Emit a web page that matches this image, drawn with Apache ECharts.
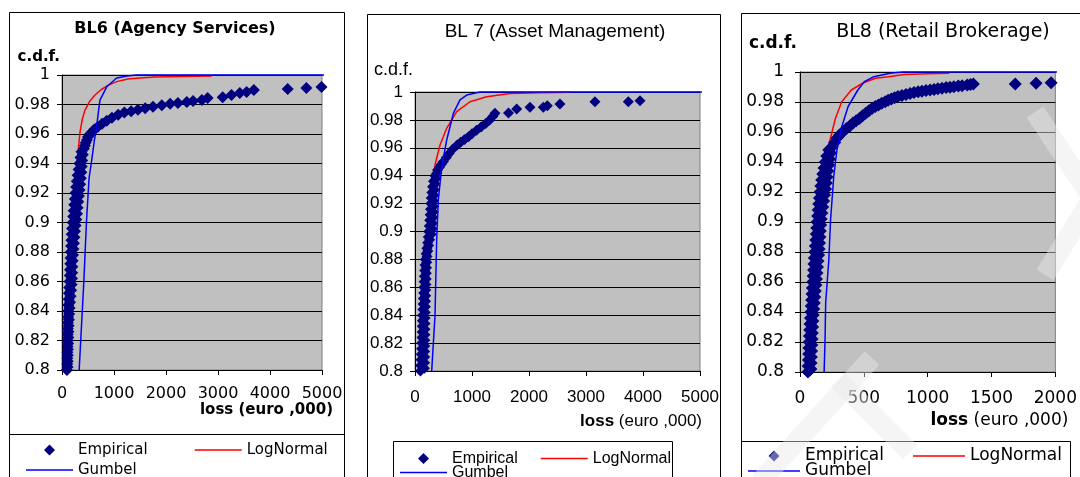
<!DOCTYPE html>
<html>
<head>
<meta charset="utf-8">
<script src="https://cdn.jsdelivr.net/npm/echarts@6/dist/echarts.min.js"></script>
<style>html,body{margin:0;padding:0;background:#fff}#c{width:1080px;height:477px}</style>
</head>
<body>
<div id="c"></div>
<script>
// ---- Data (x = loss in euro ,000 ; y = c.d.f.) ----
const titles = ['BL6 (Agency Services)', 'BL 7 (Asset Management)', 'BL8 (Retail Brokerage)'];
const yTicks = [0.8, 0.82, 0.84, 0.86, 0.88, 0.9, 0.92, 0.94, 0.96, 0.98, 1];
const xTicksBL6 = [0, 1000, 2000, 3000, 4000, 5000];
const xTicksBL7 = [0, 1000, 2000, 3000, 4000, 5000];
const xTicksBL8 = [0, 500, 1000, 1500, 2000];

const bl6Empirical = [
  [95,0.800],[108,0.802],[100,0.804],[110,0.806],[102,0.808],[112,0.810],[104,0.812],[116,0.814],
  [106,0.816],[118,0.818],[108,0.820],[122,0.822],[110,0.824],[124,0.826],[112,0.828],[128,0.830],
  [114,0.832],[132,0.834],[116,0.836],[138,0.838],[118,0.840],[145,0.842],[122,0.844],[155,0.846],
  [128,0.848],[165,0.850],[132,0.852],[175,0.854],[138,0.856],[185,0.858],[145,0.860],[192,0.862],
  [150,0.864],[196,0.866],[155,0.868],[200,0.870],[160,0.872],[205,0.874],[165,0.876],[212,0.878],
  [170,0.880],[220,0.882],[176,0.884],[230,0.886],[182,0.888],[240,0.890],[188,0.892],[250,0.894],
  [195,0.896],[262,0.898],[205,0.900],[275,0.902],[215,0.904],[288,0.906],[225,0.908],[300,0.910],
  [236,0.912],[312,0.914],[248,0.916],[325,0.918],[260,0.920],[338,0.922],[272,0.924],[350,0.926],
  [285,0.928],[362,0.930],[300,0.932],[372,0.934],[318,0.936],[380,0.938],[335,0.940],[390,0.942],
  [355,0.944],[400,0.946],[375,0.948],[420,0.950],[440,0.952],[455,0.954],[480,0.956],[500,0.958],
  [540,0.960],[570,0.961],[620,0.963],[690,0.965],[770,0.967],[860,0.969],[960,0.971],
  [1080,0.973],[1200,0.9745],[1330,0.9755],[1460,0.9765],[1600,0.9775],[1750,0.9785],[1920,0.9795],
  [2080,0.9805],[2230,0.981],[2400,0.9817],[2520,0.9824],[2690,0.983],[2800,0.9844],[3090,0.985],
  [3260,0.9864],[3420,0.9878],[3550,0.9885],[3690,0.9898],[4340,0.9905],[4700,0.9912],[4990,0.9919]
];
const bl6LogNormal = [
  [100,0.8],[130,0.85],[190,0.89],[240,0.92],[270,0.93],[290,0.94],[315,0.95],[345,0.961],[390,0.97],
  [440,0.976],[530,0.982],[634,0.9864],[750,0.990],[883,0.993],[1050,0.9955],[1267,0.9973],[1500,0.998],
  [1786,0.9986],[2300,0.999],[2880,0.9993]
];
const bl6Gumbel = [
  [330,0.8],[360,0.82],[420,0.86],[470,0.9],[520,0.93],[570,0.942],[620,0.955],[666,0.965],[700,0.975],
  [730,0.983],[860,0.992],[1050,0.998],[1250,0.9993],[1440,1],[5150,1]
];

const bl7Empirical = [
  [95,0.800],[165,0.802],[100,0.804],[168,0.806],[105,0.808],[170,0.810],[110,0.812],[170,0.814],
  [115,0.816],[172,0.818],[118,0.820],[172,0.822],[122,0.824],[174,0.826],[125,0.828],[175,0.830],
  [128,0.832],[176,0.834],[130,0.836],[177,0.838],[133,0.840],[180,0.842],[138,0.844],[182,0.846],
  [143,0.848],[185,0.850],[148,0.852],[188,0.854],[152,0.856],[190,0.858],[156,0.860],[193,0.862],
  [160,0.864],[196,0.866],[165,0.868],[199,0.870],[170,0.872],[202,0.874],[176,0.876],[206,0.878],
  [182,0.880],[212,0.882],[195,0.884],[225,0.886],[208,0.888],[240,0.890],[222,0.892],[258,0.894],
  [232,0.896],[285,0.898],[240,0.900],[300,0.902],[250,0.904],[308,0.906],[258,0.908],[314,0.910],
  [265,0.912],[318,0.914],[272,0.916],[322,0.918],[278,0.920],[326,0.922],[285,0.924],[332,0.926],
  [295,0.928],[340,0.930],[308,0.932],[352,0.934],[325,0.936],[368,0.938],[350,0.940],[385,0.942],
  [395,0.944],[430,0.946],[460,0.948],[497,0.950],[550,0.953],
  [600,0.956],[660,0.959],[740,0.962],[800,0.964],[870,0.966],[940,0.968],[1000,0.970],[1080,0.9725],
  [1160,0.975],[1240,0.9775],[1310,0.980],[1365,0.9825],[1403,0.9847],[1640,0.985],[1784,0.9878],
  [2017,0.989],[2251,0.989],[2321,0.9902],[2543,0.9914],[3157,0.993],[3742,0.993],[3947,0.9938]
];
const bl7LogNormal = [
  [120,0.8],[160,0.85],[258,0.9],[312,0.928],[351,0.9477],[380,0.9525],[439,0.962],[556,0.974],[731,0.9859],
  [965,0.993],[1257,0.9966],[1666,0.999],[2200,0.9995],[2720,0.9998]
];
const bl7Gumbel = [
  [293,0.8],[351,0.84],[380,0.894],[409,0.9226],[468,0.946],[556,0.9656],[673,0.9847],[789,0.9943],
  [907,0.9978],[1140,1],[5120,1]
];

const bl8Empirical = [
  [62,0.800],[85,0.802],[64,0.804],[87,0.806],[66,0.808],[89,0.810],[68,0.812],[91,0.814],
  [70,0.816],[93,0.818],[72,0.820],[95,0.822],[74,0.824],[97,0.826],[76,0.828],[99,0.830],
  [79,0.832],[101,0.834],[82,0.836],[104,0.838],[85,0.840],[108,0.842],[88,0.844],[112,0.846],
  [91,0.848],[116,0.850],[94,0.852],[120,0.854],[97,0.856],[125,0.858],[100,0.860],[129,0.862],
  [103,0.864],[133,0.866],[106,0.868],[137,0.870],[109,0.872],[141,0.874],[112,0.876],[146,0.878],
  [116,0.880],[150,0.882],[120,0.884],[153,0.886],[124,0.888],[156,0.890],[128,0.892],[159,0.894],
  [131,0.896],[162,0.898],[134,0.900],[166,0.902],[138,0.904],[172,0.906],[142,0.908],[178,0.910],
  [147,0.912],[185,0.914],[152,0.916],[192,0.918],[157,0.920],[200,0.922],[163,0.924],[206,0.926],
  [170,0.928],[212,0.930],[178,0.932],[218,0.934],[188,0.936],[225,0.938],[198,0.940],[232,0.942],
  [210,0.944],[240,0.946],[225,0.948],[250,0.950],[272,0.953],[289,0.9558],[310,0.958],
  [335,0.960],[364,0.9624],[390,0.964],[415,0.966],[440,0.9675],[466,0.969],[490,0.9708],[515,0.9725],
  [540,0.9742],[566,0.9758],[590,0.977],[615,0.978],[640,0.9792],[667,0.9802],[690,0.9812],[715,0.982],
  [740,0.9828],[767,0.9836],[798,0.9843],[830,0.985],[862,0.9857],[893,0.9864],[925,0.9868],[955,0.9872],
  [987,0.9876],[1019,0.988],[1050,0.9884],[1080,0.9888],[1112,0.9892],[1145,0.9896],[1175,0.9899],
  [1205,0.9902],[1240,0.9906],[1270,0.9909],[1310,0.9913],[1335,0.9916],[1358,0.992],
  [1686,0.992],[1849,0.9925],[1967,0.9929]
];
const bl8LogNormal = [
  [70,0.8],[98,0.85],[140,0.9],[178,0.928],[201,0.9447],[239,0.9558],[277,0.969],[327,0.9802],[402,0.988],
  [490,0.9925],[591,0.9958],[692,0.9969],[818,0.9984],[1000,0.9988],[1170,0.9991]
];
const bl8Gumbel = [
  [189,0.8],[196,0.821],[201,0.846],[226,0.875],[239,0.901],[264,0.93],[289,0.948],[327,0.9635],
  [377,0.977],[453,0.988],[503,0.9935],[579,0.9969],[704,0.9991],[805,1],[2053,1]
];

// ---- Chart ----
const chart = echarts.init(document.getElementById('c'), null, {renderer: 'canvas'});
const DV = 'DejaVu Sans', LS = 'Liberation Sans';
const yFmt = v => String(+(+v).toFixed(2));
const xFmt = v => String(v);

const panels = [
  {font: DV, tick: 16, grid: {left: 62, top: 75, width: 260, height: 295}, xt: xTicksBL6,
   title: {x: 175, y: 21, size: 16, weight: 'bold'}, cdf: {size: 15, weight: 'bold', gap: 18, pad: 2},
   xname: {text: 'loss (euro ,000)', gap: 11, pad: 33, size: 15, weight: 'bold'}, xm: 16, ym: 12,
   emp: bl6Empirical, ln: bl6LogNormal, gb: bl6Gumbel, sym: 12},
  {font: LS, tick: 17, grid: {left: 415, top: 92, width: 285, height: 279}, xt: xTicksBL7,
   title: {x: 555, y: 22, size: 19, weight: 'normal'}, cdf: {size: 18, weight: 'normal', gap: 22, pad: 2},
   xname: {text: '{b|loss} (euro ,000)', gap: 2, pad: 42, size: 17, weight: 'normal'}, xm: 18, ym: 12,
   emp: bl7Empirical, ln: bl7LogNormal, gb: bl7Gumbel, sym: 11},
  {font: DV, tick: 17, grid: {left: 800, top: 72, width: 265, height: 300}, xt: xTicksBL8,
   title: {x: 943, y: 23, size: 19, weight: 'normal'}, cdf: {size: 17, weight: 'bold', gap: 28, pad: 3},
   xname: {text: '{b|loss} (euro ,000)', gap: 13, pad: 40, size: 17, weight: 'normal'}, xm: 18, ym: 16,
   emp: bl8Empirical, ln: bl8LogNormal, gb: bl8Gumbel, sym: 13}
];

const option = {
  animation: false,
  backgroundColor: '#ffffff',
  title: [], grid: [], xAxis: [], yAxis: [], series: [], legend: [], graphic: []
};

panels.forEach((p, i) => {
  option.title.push({
    text: titles[i], left: p.title.x, top: p.title.y, textAlign: 'center', padding: 0,
    textStyle: {fontFamily: p.font, fontSize: p.title.size, fontWeight: p.title.weight, color: '#000'}
  });
  option.grid.push(Object.assign({show: true, backgroundColor: '#c0c0c0', borderColor: '#808080', borderWidth: 1}, p.grid));
  option.xAxis.push({
    type: 'value', gridIndex: i, min: p.xt[0], max: p.xt[p.xt.length - 1], interval: p.xt[1] - p.xt[0],
    name: p.xname.text, nameLocation: 'end', nameGap: p.xname.gap,
    nameTextStyle: {align: 'right', verticalAlign: 'top', padding: [p.xname.pad, 0, 0, 0],
      fontFamily: p.font, fontSize: p.xname.size, fontWeight: p.xname.weight, color: '#000',
      rich: {b: {fontFamily: p.font, fontSize: p.xname.size, fontWeight: 'bold', color: '#000'}}},
    axisLine: {onZero: false, lineStyle: {color: '#000', width: 1}},
    axisTick: {show: true, length: 5, lineStyle: {color: '#000'}},
    axisLabel: {margin: p.xm, fontFamily: p.font, fontSize: p.tick, color: '#000', showMaxLabel: true, showMinLabel: true, formatter: xFmt},
    splitLine: {show: false}
  });
  option.yAxis.push({
    type: 'value', gridIndex: i, min: yTicks[0], max: yTicks[yTicks.length - 1], interval: 0.02,
    name: 'c.d.f.', nameLocation: 'end', nameGap: p.cdf.gap,
    nameTextStyle: {align: 'right', verticalAlign: 'middle', padding: [0, p.cdf.pad, 0, 0],
      fontFamily: p.font, fontSize: p.cdf.size, fontWeight: p.cdf.weight, color: '#000'},
    axisLine: {show: true, lineStyle: {color: '#000', width: 1}},
    axisTick: {show: true, length: 5, lineStyle: {color: '#000'}},
    axisLabel: {margin: p.ym, fontFamily: p.font, fontSize: p.tick, color: '#000', formatter: yFmt},
    splitLine: {show: true, lineStyle: {color: '#000', width: 1}}
  });
  option.series.push({
    name: 'LogNormal', type: 'line', xAxisIndex: i, yAxisIndex: i, data: p.ln, symbol: 'none', clip: false,
    lineStyle: {color: '#ff0000', width: 1.5}, itemStyle: {color: '#ff0000'}, z: 2
  });
  option.series.push({
    name: 'Empirical', type: 'scatter', xAxisIndex: i, yAxisIndex: i, data: p.emp, symbol: 'diamond',
    symbolSize: p.sym, itemStyle: {color: '#000080', opacity: 1}, z: 3
  });
  option.series.push({
    name: 'Gumbel', type: 'line', xAxisIndex: i, yAxisIndex: i, data: p.gb, symbol: 'none', clip: false,
    lineStyle: {color: '#0000ff', width: 1.5}, itemStyle: {color: '#0000ff'}, z: 4
  });
});

// legend icons: padded paths so the symbol keeps its shape inside the wide icon box
const diamondIcon = w => 'path://M0,5.5L0.01,5.5Z M' + (w / 2 - 5.5) + ',5.5L' + (w / 2) + ',0L' + (w / 2 + 5.5) + ',5.5L' + (w / 2) + ',11Z M' + (w - 0.01) + ',5.5L' + w + ',5.5Z';
const lineIcon = w => 'path://M0,0L0.01,0Z M0,4.7L' + w + ',4.7L' + w + ',6.3L0,6.3Z M0,11L0.01,11Z';

const lg = [
  {left: 26, r1: 448, r2: 468, w: 47, gap: 47, font: DV, size: 15},
  {left: 400, r1: 456, r2: 470, w: 47, gap: 23, font: LS, size: 16},
  {left: 748, r1: 453, r2: 468, w: 52, gap: 29, font: DV, size: 17}
];
lg.forEach(l => {
  const base = {left: l.left, padding: 0, itemWidth: l.w, itemHeight: 11, itemGap: l.gap, selectedMode: false,
    orient: 'horizontal', itemStyle: {borderWidth: 0}, lineStyle: {width: 0},
    textStyle: {fontFamily: l.font, fontSize: l.size, color: '#000', lineHeight: l.size}};
  option.legend.push(Object.assign({}, base, {top: l.r1 - 5.5, data: [
    {name: 'Empirical', icon: diamondIcon(l.w)}, {name: 'LogNormal', icon: lineIcon(l.w)}]}));
  option.legend.push(Object.assign({}, base, {top: l.r2 - 5.5, data: [{name: 'Gumbel', icon: lineIcon(l.w)}]}));
});

// chart-area frames, legend boxes, faint watermark
const frame = {fill: 'none', stroke: '#000', lineWidth: 1};
const wm = {stroke: 'rgba(232,232,232,0.45)', lineWidth: 20};
option.graphic = [
  {type: 'rect', shape: {x: 9.5, y: 12.5, width: 335, height: 480}, style: frame, silent: true},
  {type: 'line', shape: {x1: 9.5, y1: 434.5, x2: 344.5, y2: 434.5}, style: {stroke: '#000', lineWidth: 1}, silent: true},
  {type: 'rect', shape: {x: 367.5, y: 14.5, width: 353, height: 480}, style: frame, silent: true},
  {type: 'rect', shape: {x: 393.5, y: 441.5, width: 279, height: 60}, style: frame, silent: true},
  {type: 'rect', shape: {x: 741.5, y: 13.5, width: 360, height: 480}, style: frame, silent: true},
  {type: 'rect', shape: {x: 741.5, y: 441.5, width: 329, height: 60}, style: frame, silent: true},
  {type: 'line', z: 100, silent: true, shape: {x1: 760, y1: 482, x2: 872, y2: 358}, style: wm},
  {type: 'line', z: 100, silent: true, shape: {x1: 838, y1: 380, x2: 910, y2: 452}, style: wm},
  {type: 'line', z: 100, silent: true, shape: {x1: 1035, y1: 112, x2: 1088, y2: 192}, style: wm},
  {type: 'line', z: 100, silent: true, shape: {x1: 1088, y1: 205, x2: 1045, y2: 275}, style: wm}
];

chart.setOption(option);
</script>
</body>
</html>
